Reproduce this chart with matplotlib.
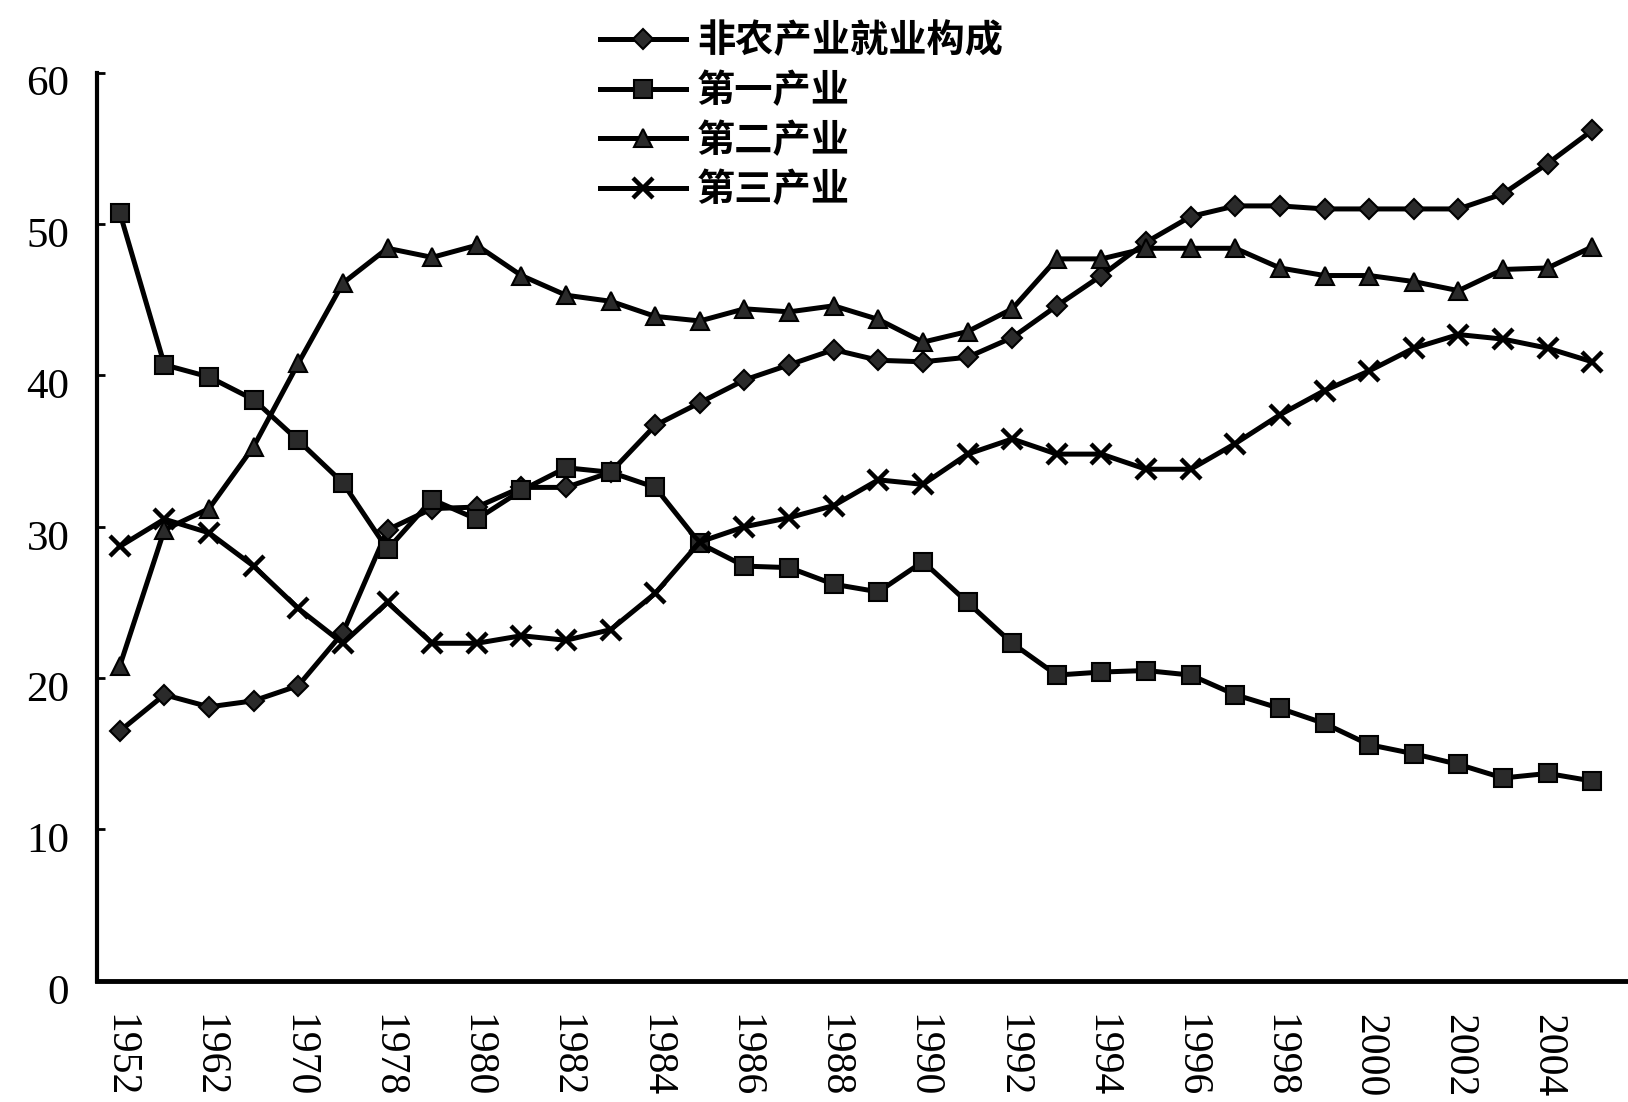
import matplotlib
matplotlib.use("Agg")
import matplotlib.pyplot as plt
import matplotlib.transforms as mtransforms

years = ["1952", "1957", "1962", "1965", "1970", "1975", "1978", "1979", "1980",
         "1981", "1982", "1983", "1984", "1985", "1986", "1987", "1988", "1989",
         "1990", "1991", "1992", "1993", "1994", "1995", "1996", "1997", "1998",
         "1999", "2000", "2001", "2002", "2003", "2004", "2005"]

nonagri = [16.5, 18.9, 18.1, 18.5, 19.5, 23.0, 29.8, 31.2, 31.3, 32.6, 32.6, 33.6,
           36.7, 38.2, 39.7, 40.7, 41.7, 41.0, 40.9, 41.2, 42.5, 44.6, 46.6, 48.8,
           50.5, 51.2, 51.2, 51.0, 51.0, 51.0, 51.0, 52.0, 54.0, 56.2]
primary = [50.75, 40.7, 39.9, 38.4, 35.7, 32.9, 28.5, 31.8, 30.5, 32.4, 33.9, 33.6,
           32.6, 28.9, 27.4, 27.3, 26.2, 25.7, 27.7, 25.0, 22.3, 20.2, 20.4, 20.5,
           20.2, 18.9, 18.0, 17.0, 15.6, 15.0, 14.3, 13.4, 13.7, 13.2]
secondary = [20.8, 29.8, 31.2, 35.3, 40.8, 46.1, 48.4, 47.8, 48.6, 46.6, 45.3, 44.9,
             43.9, 43.6, 44.4, 44.2, 44.6, 43.7, 42.2, 42.9, 44.4, 47.7, 47.7, 48.4,
             48.4, 48.4, 47.1, 46.6, 46.6, 46.2, 45.6, 47.0, 47.1, 48.5]
tertiary = [28.7, 30.5, 29.6, 27.4, 24.6, 22.3, 25.0, 22.3, 22.3, 22.8, 22.5, 23.2,
            25.6, 29.0, 30.0, 30.6, 31.4, 33.1, 32.8, 34.8, 35.8, 34.8, 34.8, 33.8,
            33.8, 35.5, 37.4, 39.0, 40.3, 41.8, 42.7, 42.4, 41.8, 40.9]

series_names = ["非农产业就业构成", "第一产业", "第二产业", "第三产业"]
yticks = [0, 10, 20, 30, 40, 50, 60]

fig = plt.figure(figsize=(16.28, 11.02), dpi=100)
ax = fig.add_axes([0.0596, 0.11, 0.9404, 0.824])

x = list(range(len(years)))
lw = 3.6
ec = "#000000"
fc = "#2a2a2a"
l1, = ax.plot(x, nonagri, color="black", lw=lw, marker="D", ms=10,
              mfc=fc, mec=ec, mew=1.5, label=series_names[0])
l2, = ax.plot(x, primary, color="black", lw=lw, marker="s", ms=13,
              mfc=fc, mec=ec, mew=1.5, label=series_names[1])
l3, = ax.plot(x, secondary, color="black", lw=lw, marker="^", ms=13,
              mfc=fc, mec=ec, mew=1.5, label=series_names[2])
l4, = ax.plot(x, tertiary, color="black", lw=lw, marker="x", ms=15,
              mec=ec, mew=3.2, label=series_names[3])

ax.set_xlim(-0.51, 33.8)
ax.set_ylim(0, 60)
ax.set_yticks(yticks)
ax.set_yticklabels([str(v) for v in yticks], fontsize=31,
                   family=["Liberation Serif", "DejaVu Serif"])
ax.tick_params(axis="y", direction="in", length=6, width=2, pad=20)

ax.set_xticks(x[::2])
ax.set_xticklabels(years[::2], rotation=-90, fontsize=30,
                   family=["Liberation Serif", "DejaVu Serif"])
ax.tick_params(axis="x", length=0, pad=24)

off = mtransforms.ScaledTranslation(0, -8 / 100, fig.dpi_scale_trans)
for lab in ax.get_yticklabels():
    lab.set_transform(lab.get_transform() + off)

for side in ["top", "right"]:
    ax.spines[side].set_visible(False)
ax.spines["left"].set_linewidth(3)
ax.spines["bottom"].set_linewidth(3.5)

leg = fig.legend(handles=[l1, l2, l3, l4], loc="upper left",
                 bbox_to_anchor=(0.352, 1.005), frameon=False,
                 prop={"family": ["Noto Sans CJK SC", "DejaVu Sans"], "size": 27.5,
                       "weight": "bold"},
                 handlelength=2.25, handletextpad=0.3, labelspacing=0.28,
                 borderaxespad=0.3)

fig.savefig("out.png", dpi=100, facecolor="white")
